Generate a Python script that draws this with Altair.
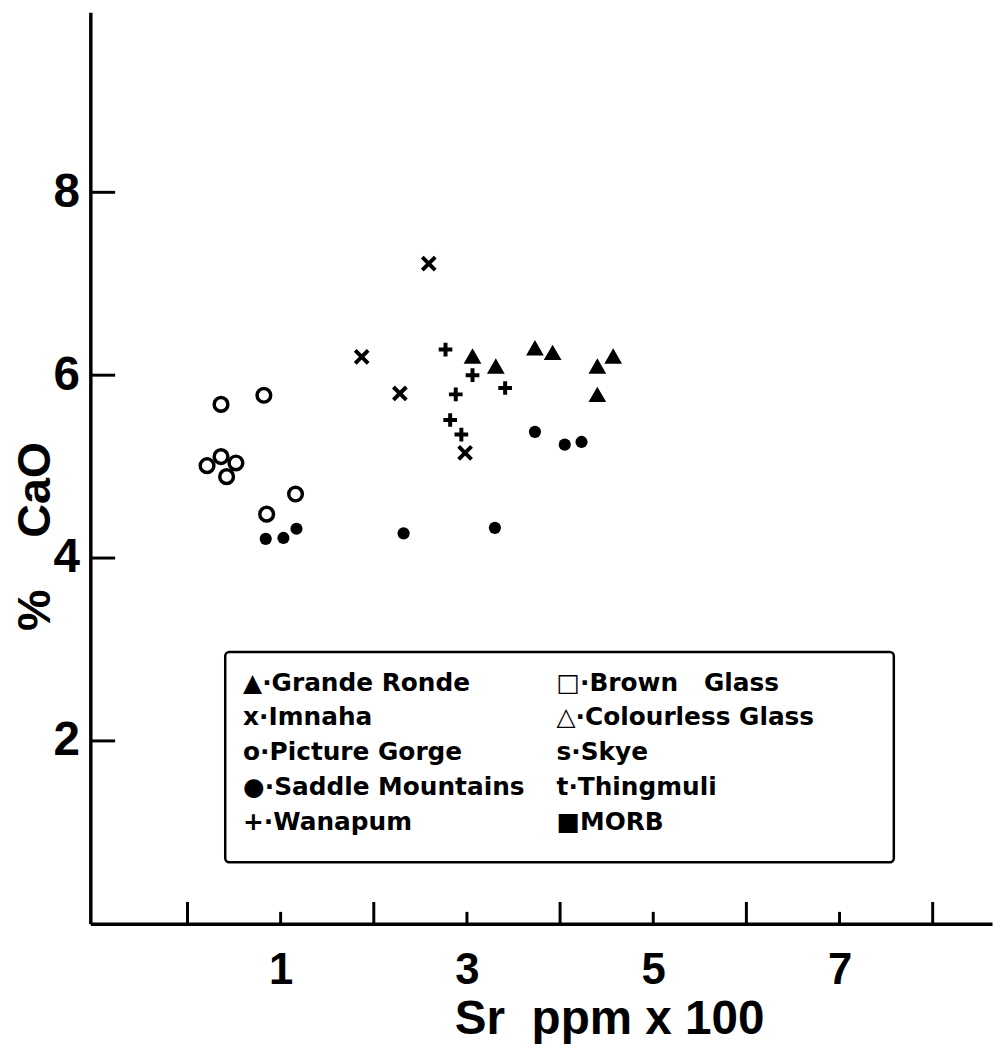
import altair as alt
import pandas as pd

# ---- data (Sr ppm x 100 , % CaO) ----
grande_ronde_sr = [3.06, 3.31, 3.73, 3.92, 4.57, 4.40, 4.40]
grande_ronde_cao = [6.21, 6.10, 6.30, 6.25, 6.21, 6.10, 5.79]

imnaha_sr = [2.59, 1.87, 2.28, 2.98]
imnaha_cao = [7.22, 6.20, 5.80, 5.15]

picture_gorge_sr = [0.36, 0.82, 0.21, 0.36, 0.52, 0.42, 0.85, 1.16]
picture_gorge_cao = [5.68, 5.78, 5.01, 5.11, 5.04, 4.89, 4.48, 4.70]

saddle_sr = [0.84, 1.03, 1.17, 2.32, 3.30, 3.73, 4.05, 4.23]
saddle_cao = [4.21, 4.22, 4.32, 4.27, 4.33, 5.38, 5.24, 5.27]

wanapum_sr = [2.77, 3.06, 2.88, 3.41, 2.82, 2.94]
wanapum_cao = [6.28, 6.00, 5.79, 5.86, 5.51, 5.35]

x_label_values = [1, 3, 5, 7]
y_label_values = [2, 4, 6, 8]
x_tall_ticks = [0, 2, 4, 6, 8]
x_short_ticks = [1, 3, 5, 7]
y_ticks = [2, 4, 6, 8]

legend_labels = [
    "\u25b2\u00b7Grande Ronde",
    "x\u00b7Imnaha",
    "o\u00b7Picture Gorge",
    "\u25cf\u00b7Saddle Mountains",
    "+\u00b7Wanapum",
    "\u25a1\u00b7Brown\u00a0\u00a0\u00a0Glass",
    "\u25b3\u00b7Colourless\u00a0Glass",
    "s\u00b7Skye",
    "t\u00b7Thingmuli",
    "\u25a0MORB",
]
legend_col = [0, 0, 0, 0, 0, 1, 1, 1, 1, 1]
legend_row = [0, 1, 2, 3, 4, 0, 1, 2, 3, 4]

# ---- layout ----
W, H = 909, 919
xscale = alt.Scale(domain=[-1.043, 8.637], nice=False, zero=False)
yscale = alt.Scale(domain=[0, 9.97], nice=False, zero=False)
AXFONT = "Liberation Sans"

x_axis = alt.Axis(
    values=x_label_values, ticks=False, tickSize=0, grid=False,
    domainColor="black", domainWidth=3.5,
    labelFont=AXFONT, labelFontSize=44, labelFontWeight="bold", labelColor="black",
    labelBaseline="alphabetic", labelPadding=60, labelFlush=False,
    title="Sr\u00a0\u00a0ppm x 100", titleFont=AXFONT, titleFontSize=48,
    titleFontWeight="bold", titleColor="black",
    titleX=523, titleY=111, titleBaseline="alphabetic", titleAlign="center",
)
y_axis = alt.Axis(
    values=y_label_values, ticks=False, tickSize=0, grid=False,
    domainColor="black", domainWidth=3.5,
    labelFont=AXFONT, labelFontSize=48, labelFontWeight="bold", labelColor="black",
    labelBaseline="middle", labelPadding=11, labelFlush=False,
    title="%\u00a0\u00a0\u00a0\u00a0CaO", titleFont=AXFONT, titleFontSize=47,
    titleFontWeight="bold", titleColor="black",
    titleX=-41, titleY=528, titleBaseline="alphabetic", titleAlign="center",
    titleAngle=270,
)


def pts(sr, cao):
    return pd.DataFrame({"sr": sr, "cao": cao})


def layer(df, **mk):
    return alt.Chart(df).mark_point(color="black", opacity=1, **mk).encode(
        x=alt.X("sr:Q", scale=xscale, axis=x_axis),
        y=alt.Y("cao:Q", scale=yscale, axis=y_axis),
    )


picture = layer(pts(picture_gorge_sr, picture_gorge_cao), shape="circle",
                filled=False, strokeWidth=3.5, size=190)
saddle = layer(pts(saddle_sr, saddle_cao), shape="circle", filled=True, size=150)
grande = layer(pts(grande_ronde_sr, grande_ronde_cao), shape="triangle-up",
               filled=True, size=320)
imnaha = layer(pts(imnaha_sr, imnaha_cao), shape="M-1,-1L1,1M-1,1L1,-1",
               filled=False, strokeWidth=4, size=170)
wanapum = layer(pts(wanapum_sr, wanapum_cao), shape="M-1,0L1,0M0,-1L0,1",
                filled=False, strokeWidth=4, size=190)

yt = alt.Chart(pd.DataFrame({"cao": y_ticks})).mark_rule(color="black", strokeWidth=3).encode(
    y=alt.Y("cao:Q", scale=yscale, axis=y_axis), x=alt.value(0), x2=alt.value(25)
)
xt_tall = alt.Chart(pd.DataFrame({"sr": x_tall_ticks})).mark_rule(color="black", strokeWidth=3).encode(
    x=alt.X("sr:Q", scale=xscale, axis=x_axis), y=alt.value(H), y2=alt.value(H - 22)
)
xt_short = alt.Chart(pd.DataFrame({"sr": x_short_ticks})).mark_rule(color="black", strokeWidth=3).encode(
    x=alt.X("sr:Q", scale=xscale, axis=x_axis), y=alt.value(H), y2=alt.value(H - 12)
)

box = alt.Chart(pd.DataFrame({"a": [0]})).mark_rect(
    fill="white", stroke="black", strokeWidth=2.5, cornerRadius=4
).encode(x=alt.value(136), x2=alt.value(810), y=alt.value(645), y2=alt.value(857))

legend_df = pd.DataFrame({"label": legend_labels, "col": legend_col, "row": legend_row})
legend_text = alt.Chart(legend_df).transform_calculate(
    px="datum.col == 0 ? 154 : 470", py="684 + datum.row * 35"
).mark_text(
    align="left", baseline="alphabetic", font="DejaVu Sans", fontWeight="bold",
    fontSize=25, color="black"
).encode(
    x=alt.X("px:Q", scale=None),
    y=alt.Y("py:Q", scale=None),
    text="label:N",
)

chart = alt.layer(
    picture, saddle, grande, imnaha, wanapum, yt, xt_tall, xt_short, box, legend_text
).properties(
    width=W, height=H,
    autosize=alt.AutoSizeParams(type="none"),
    padding={"left": 83, "top": 0, "right": 3, "bottom": 120},
).configure(background="white").configure_view(strokeWidth=0)

chart.save("out.html", embed_options={"renderer": "svg", "actions": False})
